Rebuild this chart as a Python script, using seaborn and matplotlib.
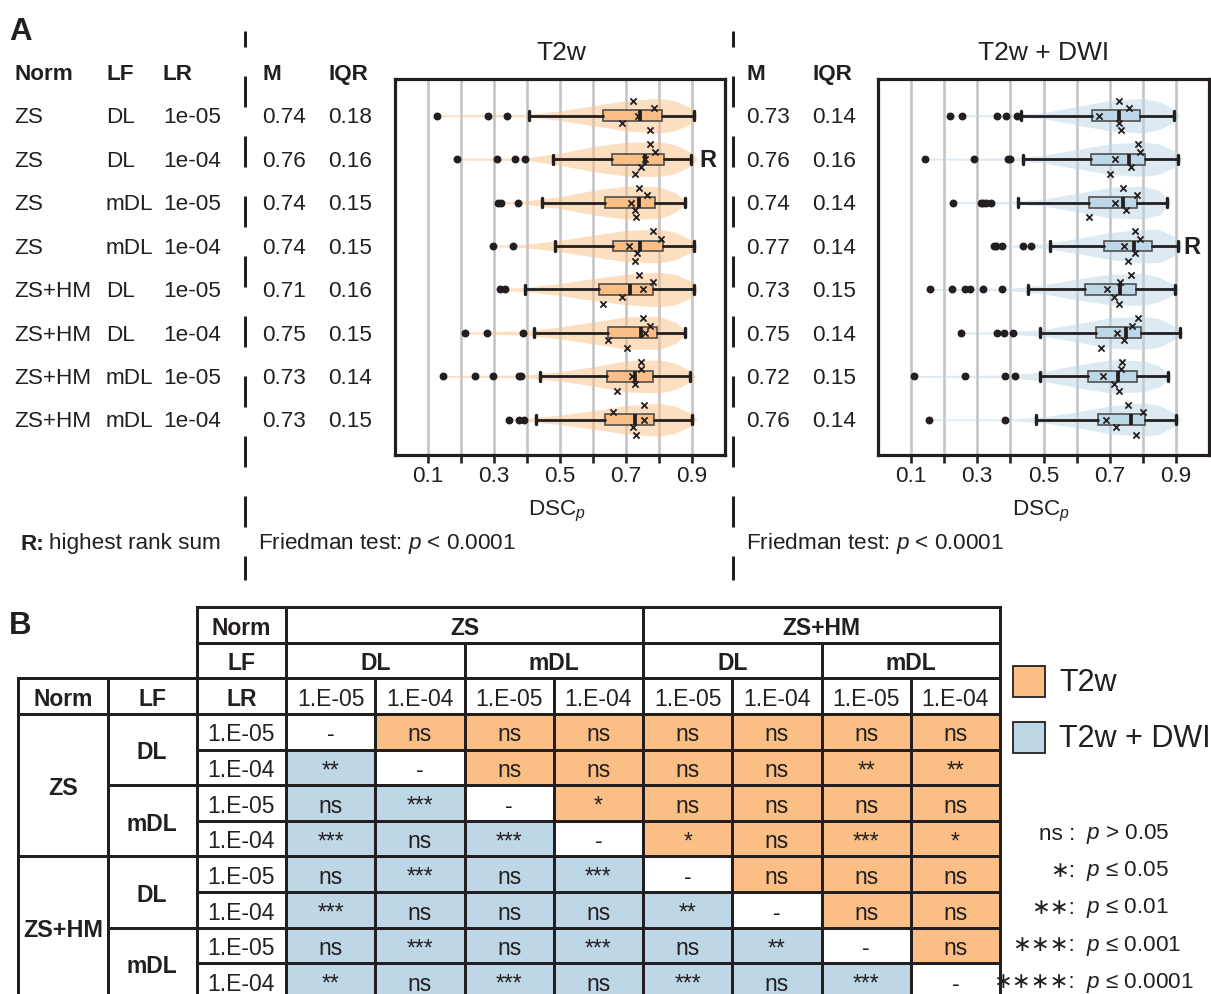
import numpy as np
import pandas as pd
import matplotlib
matplotlib.use("Agg")
import matplotlib.pyplot as plt
import seaborn as sns
from matplotlib.colors import ListedColormap
from matplotlib.transforms import Affine2D, blended_transform_factory
from matplotlib.patches import Rectangle
from matplotlib.lines import Line2D

# ---------------- data ----------------
NORM = ["ZS", "ZS", "ZS", "ZS", "ZS+HM", "ZS+HM", "ZS+HM", "ZS+HM"]
LF = ["DL", "DL", "mDL", "mDL", "DL", "DL", "mDL", "mDL"]
LR = ["1e-05", "1e-04", "1e-05", "1e-04", "1e-05", "1e-04", "1e-05", "1e-04"]
LR_TABLE = ["1.E-05", "1.E-04", "1.E-05", "1.E-04", "1.E-05", "1.E-04", "1.E-05", "1.E-04"]

T2W_M = ["0.74", "0.76", "0.74", "0.74", "0.71", "0.75", "0.73", "0.73"]
T2W_IQR = ["0.18", "0.16", "0.15", "0.15", "0.16", "0.15", "0.14", "0.15"]
DWI_M = ["0.73", "0.76", "0.74", "0.77", "0.73", "0.75", "0.72", "0.76"]
DWI_IQR = ["0.14", "0.16", "0.14", "0.14", "0.15", "0.14", "0.15", "0.14"]

T2W_WHISLO = [0.405, 0.480, 0.444, 0.486, 0.393, 0.420, 0.438, 0.427]
T2W_Q1 = [0.631, 0.658, 0.637, 0.662, 0.619, 0.644, 0.643, 0.636]
T2W_MED = [0.743, 0.758, 0.740, 0.743, 0.711, 0.746, 0.728, 0.726]
T2W_Q3 = [0.810, 0.814, 0.789, 0.812, 0.782, 0.794, 0.782, 0.786]
T2W_WHISHI = [0.905, 0.898, 0.879, 0.905, 0.905, 0.879, 0.895, 0.899]
T2W_FLIERS = [[0.126, 0.282, 0.339], [0.187, 0.310, 0.364, 0.394],
              [0.312, 0.322, 0.373], [0.296, 0.357], [0.317, 0.332],
              [0.211, 0.279, 0.387], [0.145, 0.242, 0.298, 0.376, 0.383],
              [0.345, 0.375, 0.392]]
T2W_MARKS = [[0.720, 0.785, 0.737, 0.689, 0.773], [0.773, 0.789, 0.759, 0.745, 0.727],
             [0.740, 0.764, 0.714, 0.727, 0.731], [0.783, 0.807, 0.709, 0.734, 0.727],
             [0.739, 0.782, 0.752, 0.689, 0.629], [0.750, 0.772, 0.758, 0.646, 0.704],
             [0.745, 0.745, 0.719, 0.728, 0.674], [0.756, 0.661, 0.754, 0.722, 0.731]]

DWI_WHISLO = [0.433, 0.438, 0.423, 0.519, 0.454, 0.489, 0.489, 0.478]
DWI_Q1 = [0.646, 0.644, 0.636, 0.684, 0.626, 0.659, 0.634, 0.664]
DWI_MED = [0.728, 0.757, 0.739, 0.774, 0.731, 0.748, 0.724, 0.763]
DWI_Q3 = [0.792, 0.806, 0.782, 0.827, 0.778, 0.795, 0.781, 0.807]
DWI_WHISHI = [0.893, 0.907, 0.873, 0.907, 0.896, 0.911, 0.875, 0.901]
DWI_FLIERS = [[0.217, 0.253, 0.360, 0.388, 0.420], [0.142, 0.289, 0.393, 0.398],
              [0.227, 0.311, 0.318, 0.325, 0.340], [0.350, 0.358, 0.376, 0.438, 0.462],
              [0.157, 0.224, 0.263, 0.277, 0.316, 0.375], [0.250, 0.359, 0.382, 0.408],
              [0.108, 0.263, 0.384, 0.415], [0.154, 0.383]]
DWI_MARKS = [[0.729, 0.758, 0.669, 0.729, 0.734], [0.784, 0.792, 0.715, 0.763, 0.700],
             [0.740, 0.781, 0.716, 0.749, 0.638], [0.777, 0.792, 0.744, 0.777, 0.754],
             [0.764, 0.732, 0.692, 0.712, 0.727], [0.784, 0.767, 0.721, 0.744, 0.673],
             [0.737, 0.735, 0.680, 0.712, 0.727], [0.756, 0.801, 0.688, 0.718, 0.778]]

# violin half-widths (row units) read at these DSC values
V_GRID = [0.4, 0.5, 0.6, 0.7, 0.8, 0.85, 0.9]
T2W_VW = [[0.03, 0.11, 0.23, 0.35, 0.40, 0.34, 0.17],
          [0.03, 0.14, 0.29, 0.39, 0.40, 0.33, 0.14],
          [0.04, 0.14, 0.28, 0.38, 0.37, 0.22, 0.00],
          [0.04, 0.13, 0.25, 0.36, 0.39, 0.32, 0.13],
          [0.05, 0.14, 0.25, 0.35, 0.40, 0.35, 0.18],
          [0.05, 0.14, 0.25, 0.37, 0.38, 0.25, 0.00],
          [0.03, 0.11, 0.22, 0.36, 0.38, 0.30, 0.11],
          [0.04, 0.11, 0.21, 0.33, 0.38, 0.31, 0.13]]
T2W_VEND = [0.915, 0.915, 0.885, 0.915, 0.915, 0.885, 0.91, 0.915]
DWI_VW = [[0.03, 0.07, 0.21, 0.35, 0.40, 0.32, 0.13],
          [0.03, 0.09, 0.22, 0.35, 0.40, 0.35, 0.17],
          [0.03, 0.08, 0.21, 0.35, 0.38, 0.28, 0.00],
          [0.02, 0.05, 0.17, 0.31, 0.39, 0.38, 0.21],
          [0.03, 0.10, 0.24, 0.35, 0.37, 0.28, 0.10],
          [0.03, 0.08, 0.21, 0.35, 0.38, 0.33, 0.14],
          [0.03, 0.11, 0.26, 0.38, 0.36, 0.24, 0.00],
          [0.02, 0.07, 0.18, 0.32, 0.39, 0.33, 0.13]]
DWI_VEND = [0.91, 0.92, 0.885, 0.92, 0.91, 0.92, 0.885, 0.915]
V_TAIL = 0.02

T2W_RANK_ROW = 1
DWI_RANK_ROW = 3

X_TICKS = [0.1, 0.2, 0.3, 0.4, 0.5, 0.6, 0.7, 0.8, 0.9]
X_TICKLABELS = ["0.1", "", "0.3", "", "0.5", "", "0.7", "", "0.9"]

SIG = [["-", "ns", "ns", "ns", "ns", "ns", "ns", "ns"],
       ["**", "-", "ns", "ns", "ns", "ns", "**", "**"],
       ["ns", "***", "-", "*", "ns", "ns", "ns", "ns"],
       ["***", "ns", "***", "-", "*", "ns", "***", "*"],
       ["ns", "***", "ns", "***", "-", "ns", "ns", "ns"],
       ["***", "ns", "ns", "ns", "**", "-", "ns", "ns"],
       ["ns", "***", "ns", "***", "ns", "**", "-", "ns"],
       ["**", "ns", "***", "ns", "***", "ns", "***", "-"]]

SIG_LEGEND_KEYS = ["ns :", "\u2217:", "\u2217\u2217:", "\u2217\u2217\u2217:", "\u2217\u2217\u2217\u2217:"]
SIG_LEGEND_VALS = ["$p$ > 0.05", "$p$ \u2264 0.05", "$p$ \u2264 0.01", "$p$ \u2264 0.001", "$p$ \u2264 0.0001"]

# ---------------- style ----------------
INK = "#231f20"
ORANGE = "#fbbf85"
BLUE = "#bed7e6"
GRID = "#c4c4c8"

sns.set_style("white")
FAM = ["Liberation Sans", "DejaVu Sans"]
plt.rcParams["font.family"] = FAM
plt.rcParams["mathtext.fontset"] = "custom"
plt.rcParams["mathtext.rm"] = "Liberation Sans"
plt.rcParams["mathtext.it"] = "Liberation Sans:italic"
plt.rcParams["mathtext.bf"] = "Liberation Sans:bold"
plt.rcParams["lines.scale_dashes"] = False
plt.rcParams["text.color"] = INK

W, H = 1211, 994
fig = plt.figure(figsize=(W / 100, H / 100), dpi=100)
fig.patch.set_facecolor("white")
PX = Affine2D().scale(1 / W, -1 / H).translate(0, 1) + fig.transFigure


def pt(px):
    return px * 0.72


def axes_px(x0, y0, x1, y1):
    return fig.add_axes([x0 / W, 1 - y1 / H, (x1 - x0) / W, (y1 - y0) / H])


FS = 16.2


def panel(ax, whislo, q1, med, q3, whishi, fliers, marks, vw, vend, face, rank_row):
    rows = np.arange(len(med))
    for i in rows:
        end = vend[i]
        xs = [min(fliers[i])]
        ws = [V_TAIL]
        for g, w in zip(V_GRID, vw[i]):
            if g < end:
                xs.append(g)
                ws.append(w)
        xs.append(end)
        ws.append(0.0)
        ws = np.array(ws)
        ax.fill_between(xs, i - ws, i + ws, color=face, alpha=0.5, lw=0, zorder=1)
    stats = [dict(whislo=whislo[i], q1=q1[i], med=med[i], q3=q3[i], whishi=whishi[i],
                  fliers=fliers[i]) for i in rows]
    kw = dict(positions=rows, widths=0.25, patch_artist=True, showfliers=True,
              capwidths=0.21, manage_ticks=False, zorder=3,
              boxprops=dict(facecolor=face, edgecolor="#4a4a4a", linewidth=pt(1.6)),
              whiskerprops=dict(color=INK, linewidth=pt(2.8)),
              capprops=dict(color=INK, linewidth=pt(3.4)),
              medianprops=dict(color=INK, linewidth=pt(3.8)),
              flierprops=dict(marker="o", markerfacecolor=INK, markeredgecolor=INK,
                              markersize=pt(6.5), linestyle="none"))
    try:
        ax.bxp(stats, orientation="horizontal", **kw)
    except TypeError:
        ax.bxp(stats, vert=False, **kw)
    dy = [-0.34, -0.17, 0.0, 0.17, 0.34]
    df = pd.DataFrame({"x": np.ravel(marks),
                       "y": np.repeat(rows, 5) + np.tile(dy, len(rows))})
    sns.scatterplot(data=df, x="x", y="y", marker="x", color=INK, s=20,
                    linewidth=pt(1.8), ax=ax, zorder=4, legend=False)
    ax.text(0.948, rank_row + 0.03, "R", ha="center", va="center", fontsize=17,
            fontweight="bold", color=INK, zorder=5)
    ax.set_xlim(0, 1.0)
    ax.set_ylim(7.81, -0.845)
    ax.set_xlabel("")
    ax.set_ylabel("")
    ax.set_yticks([])
    ax.set_xticks(X_TICKS)
    ax.set_xticklabels(X_TICKLABELS)
    ax.tick_params(axis="x", bottom=True, direction="out", length=pt(8), width=pt(2.6),
                   color=INK, labelsize=FS, labelcolor=INK, pad=pt(3))
    ax.set_axisbelow(True)
    ax.grid(axis="x", color=GRID, lw=pt(2.6), zorder=0)
    ax.grid(axis="y", visible=False)
    for s in ax.spines.values():
        s.set_visible(True)
        s.set_color(INK)
        s.set_linewidth(pt(3.2))


ax1 = axes_px(395, 79, 725, 455)
panel(ax1, T2W_WHISLO, T2W_Q1, T2W_MED, T2W_Q3, T2W_WHISHI, T2W_FLIERS, T2W_MARKS,
      T2W_VW, T2W_VEND, ORANGE, T2W_RANK_ROW)
ax2 = axes_px(878, 79, 1209, 455)
panel(ax2, DWI_WHISLO, DWI_Q1, DWI_MED, DWI_Q3, DWI_WHISHI, DWI_FLIERS, DWI_MARKS,
      DWI_VW, DWI_VEND, BLUE, DWI_RANK_ROW)

# titles / axis labels
fig.text(561, 53, "T2w", transform=PX, ha="center", va="center", fontsize=19)
fig.text(1044, 53, "T2w + DWI", transform=PX, ha="center", va="center", fontsize=19)
fig.text(557, 511, "DSC$_p$", transform=PX, ha="center", va="center", fontsize=FS)
fig.text(1041, 511, "DSC$_p$", transform=PX, ha="center", va="center", fontsize=FS)

# row tables next to violins (y in row units of ax1)
RT = blended_transform_factory(PX, ax1.transData)
TY = 0.05
for x, lab in [(14, "Norm"), (106, "LF"), (163, "LR"), (262, "M"), (328, "IQR"),
               (746, "M"), (812, "IQR")]:
    fig.text(x, -1.0 + TY, lab, transform=RT, ha="left", va="center", fontsize=FS,
             fontweight="bold")
for i in range(len(NORM)):
    for x, lab in [(14, NORM[i]), (106, LF[i]), (163, LR[i]), (262, T2W_M[i]),
                   (328, T2W_IQR[i]), (746, DWI_M[i]), (812, DWI_IQR[i])]:
        fig.text(x, i + TY, lab, transform=RT, ha="left", va="center", fontsize=FS)

fig.text(20, 544, "R:", transform=PX, ha="left", va="center", fontsize=FS, fontweight="bold")
fig.text(49, 544, "highest rank sum", transform=PX, ha="left", va="center", fontsize=FS)
fig.text(258, 544, "Friedman test: $p$ < 0.0001", transform=PX, ha="left", va="center", fontsize=FS)
fig.text(746, 544, "Friedman test: $p$ < 0.0001", transform=PX, ha="left", va="center", fontsize=FS)

fig.text(9, 32, "A", transform=PX, ha="left", va="center", fontsize=22.5, fontweight="bold")
fig.text(9, 626, "B", transform=PX, ha="left", va="center", fontsize=22.5, fontweight="bold")

for x in (245, 733):
    fig.add_artist(Line2D([x, x], [31, 580], transform=PX, lw=pt(3), color=INK,
                          linestyle=(pt(15), (pt(31), pt(29)))))

# ---------------- table B ----------------
axT = axes_px(18.3, 607, 1000, 999)
n = len(SIG)
codes = np.array([[0 if i == j else (1 if j > i else 2) for j in range(n)] for i in range(n)])
sns.heatmap(codes, ax=axT, cmap=ListedColormap(["white", ORANGE, BLUE]), vmin=-0.5, vmax=2.5,
            cbar=False, annot=np.array(SIG), fmt="", linewidths=0,
            annot_kws=dict(fontsize=FS + 0.3, color=INK), xticklabels=False, yticklabels=False)
CY = 0.09
for t in axT.texts:
    x, y = t.get_position()
    t.set_position((x, y + CY))
axT.set_xlim(-3, 8)
axT.set_ylim(8, -3)
axT.set_xticks([])
axT.set_yticks([])
for s in axT.spines.values():
    s.set_visible(False)

LWT = pt(3)
vlines = [(-3, -1, 8), (-2, -1, 8), (-1, -3, 8), (0, -3, 8), (4, -3, 8), (8, -3, 8),
          (2, -2, 8), (6, -2, 8), (1, -1, 8), (3, -1, 8), (5, -1, 8), (7, -1, 8)]
hlines = [(-3, -1, 8), (-2, -1, 8), (-1, -3, 8), (0, -3, 8), (4, -3, 8), (8, -3, 8),
          (2, -2, 8), (6, -2, 8), (1, -1, 8), (3, -1, 8), (5, -1, 8), (7, -1, 8)]
for x, y0, y1 in vlines:
    axT.plot([x, x], [y0, y1], color=INK, lw=LWT, solid_capstyle="projecting", clip_on=False)
for y, x0, x1 in hlines:
    axT.plot([x0, x1], [y, y], color=INK, lw=LWT, solid_capstyle="projecting", clip_on=False)


def tt(x, y, s, bold=False, fs=FS + 0.3):
    axT.text(x, y + CY, s, ha="center", va="center", fontsize=fs,
             fontweight="bold" if bold else "normal", color=INK)


tt(-0.5, -2.5, "Norm", True)
tt(-0.5, -1.5, "LF", True)
tt(-0.5, -0.5, "LR", True)
tt(-2.5, -0.5, "Norm", True)
tt(-1.5, -0.5, "LF", True)
for j in range(n):
    tt(j + 0.5, -0.5, LR_TABLE[j])
    tt(-0.5, j + 0.5, LR_TABLE[j])
# merged groups
for start in range(0, n, 4):
    tt(start + 2, -2.5, NORM[start], True)
    tt(-2.5, start + 2, NORM[start], True, fs=16.8)
for start in range(0, n, 2):
    tt(start + 1, -1.5, LF[start], True)
    tt(-1.5, start + 1, LF[start], True)

# legend
for y0, col, lab in [(666, ORANGE, "T2w"), (722, BLUE, "T2w + DWI")]:
    fig.add_artist(Rectangle((1013, y0 + 31), 32, -31, transform=PX, facecolor=col,
                             edgecolor=INK, lw=pt(1.8)))
    fig.text(1059, y0 + 17, lab, transform=PX, ha="left", va="center", fontsize=22)

for k, (key, val) in enumerate(zip(SIG_LEGEND_KEYS, SIG_LEGEND_VALS)):
    y = 834 + k * 37.2
    fig.text(1075, y, key, transform=PX, ha="right", va="center", fontsize=FS, family=FAM)
    fig.text(1086, y, val, transform=PX, ha="left", va="center", fontsize=FS, family=FAM)

fig.savefig("out.png", dpi=100, facecolor="white")
